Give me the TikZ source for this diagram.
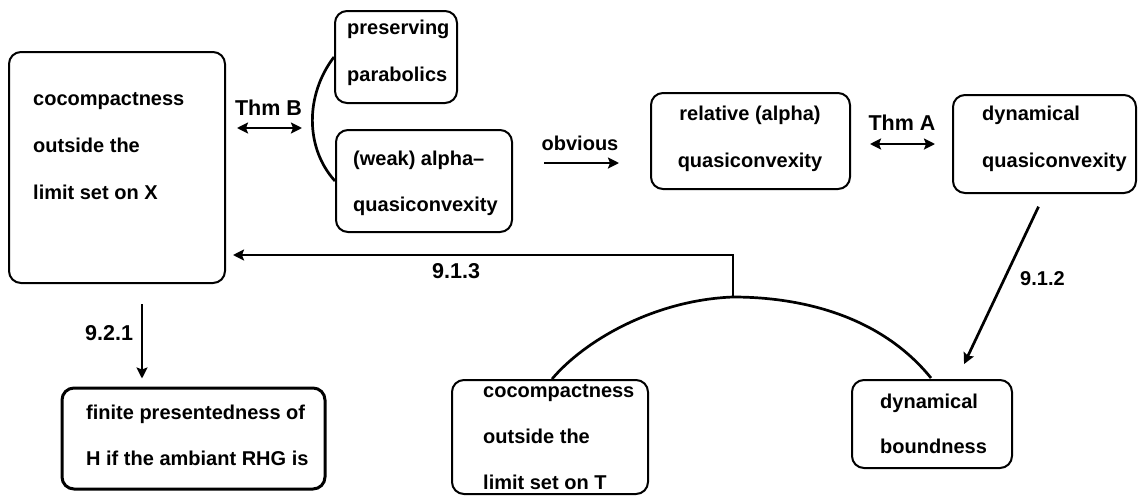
\documentclass[tikz,border=0pt]{standalone}
\usepackage{fontspec}
\setmainfont{Liberation Sans}
\usetikzlibrary{arrows.meta}
\begin{document}
\begin{tikzpicture}[x=1pt,y=-1pt,
  box/.style={draw, line width=2pt, rounded corners=12pt, inner sep=0pt},
  txt/.style={font=\fontsize{20}{24}\selectfont\bfseries, inner sep=0pt, anchor=base west},
  ctxt/.style={font=\fontsize{20}{24}\selectfont\bfseries, inner sep=0pt, anchor=base},
  lbl/.style={font=\fontsize{21.5}{24}\selectfont\bfseries, inner sep=0pt},
  slbl/.style={font=\fontsize{20}{24}\selectfont\bfseries, inner sep=0pt},
  conn/.style={line width=2.7pt},
  tip/.tip={Stealth[length=11pt,width=11pt,inset=2pt]},
  arr/.style={conn, -tip},
  darr/.style={conn, tip-tip}]
\useasboundingbox (0,0) rectangle (1138,496);
% boxes
\node[box, minimum width=216pt, minimum height=231pt] (L) at (117,167.5) {};
\node[box, minimum width=122pt, minimum height=92pt] (P) at (396,57) {};
\node[box, minimum width=176pt, minimum height=102pt] (W) at (424,181) {};
\node[box, minimum width=199pt, minimum height=96pt] (R) at (750.5,141) {};
\node[box, minimum width=183pt, minimum height=98pt] (D) at (1044.5,144) {};
\node[box, minimum width=160pt, minimum height=88pt] (DB) at (932,424) {};
\node[box, minimum width=196pt, minimum height=114pt] (T) at (550,437) {};
\node[box, line width=3pt, minimum width=263pt, minimum height=101pt] (F) at (193.5,438.5) {};
% box texts
\node[txt] (L1) at (33,105) {cocompactness};
\node[txt] (L2) at (33,152) {outside the};
\node[txt] (L3) at (33,199) {limit set on X};
\node[txt] (P1) at (347,34) {preserving};
\node[txt] (P2) at (347,81) {parabolics};
\node[txt] (W1) at (353,165) {(weak) alpha--};
\node[txt] (W2) at (353,211) {quasiconvexity};
\node[ctxt] (R1) at (750,120) {relative (alpha)};
\node[ctxt] (R2) at (750,167) {quasiconvexity};
\node[txt] (D1) at (982,120) {dynamical};
\node[txt] (D2) at (982,167) {quasiconvexity};
\node[txt] (DB1) at (880,408) {dynamical};
\node[txt] (DB2) at (880,453) {boundness};
\node[txt] (T1) at (483,397) {cocompactness};
\node[txt] (T2) at (483,443) {outside the};
\node[txt] (T3) at (483,489) {limit set on T};
\node[txt] (F1) at (86,419) {finite presentedness of};
\node[txt] (F2) at (86,465) {H if the ambiant RHG is};
% coordinates
\coordinate (brk) at (313,128);
\coordinate (arcL) at (552,379);
\coordinate (arcM) at (733,297);
\coordinate (arcR) at (931,378);
\coordinate (e913) at (233,255);
\coordinate (x921) at (142,0);
% bracket joining P and W
\draw[conn] (P.west) .. controls (305,95) and (305,148) .. (W.west);
% Thm B
\draw[darr, shorten <=11pt, shorten >=11pt] (L.east |- brk) -- (brk);
\node[lbl, anchor=base] (thmB) at (268.5,115) {Thm B};
% obvious
\draw[arr, shorten <=31pt, shorten >=31pt] ([yshift=18pt]W.east) -- ([yshift=-22pt]R.west);
\node[slbl, anchor=base] (obv) at (580,150) {obvious};
% Thm A
\draw[darr, shorten <=19pt, shorten >=17pt] (R.east |- D.west) -- (D.west);
\node[lbl, anchor=base] (thmA) at (902,130) {Thm A};
% 9.1.2
\draw[arr, shorten <=14pt, shorten >=16.5pt] (D.south) -- ([xshift=25pt]DB.north);
\node[slbl, anchor=base west] (l912) at (1020,285) {9.1.2};
% arc between T and DB
\draw[conn] (arcL) .. controls (585,340) and (655,300) .. (arcM)
  .. controls (800,297) and (880,315) .. (arcR);
% 9.1.3
\draw[arr] (arcM) |- (e913);
\node[lbl, anchor=base west] (l913) at (432,278) {9.1.3};
% 9.2.1
\draw[arr, shorten <=20pt, shorten >=8pt] (L.south -| x921) -- (F.north -| x921);
\node[lbl, anchor=base west] (l921) at (85,340) {9.2.1};
\end{tikzpicture}
\end{document}
